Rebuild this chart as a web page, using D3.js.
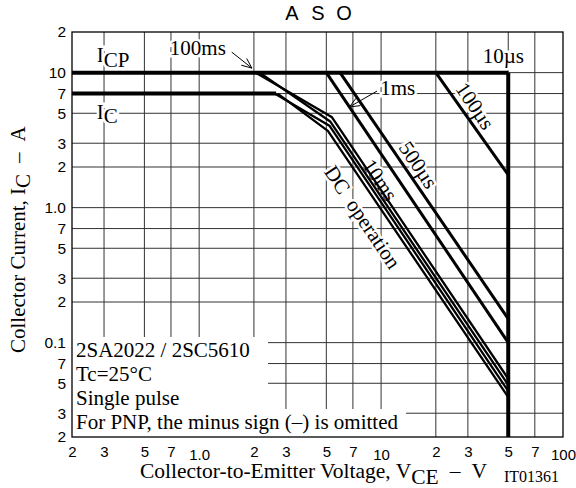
<!DOCTYPE html>
<html>
<head>
<meta charset="utf-8">
<script src="https://cdn.jsdelivr.net/npm/d3@7.9.0/dist/d3.min.js"></script>
<style>
  html, body { margin: 0; padding: 0; background: #fff; }
  svg { display: block; }
  .serif { font-family: "Liberation Serif", "Times New Roman", serif; }
  .sans { font-family: "Liberation Sans", Arial, sans-serif; }
</style>
</head>
<body>
<svg width="576" height="488"></svg>
<script>
// axis ticks
const xTickValues = [0.2, 0.3, 0.5, 0.7, 1, 2, 3, 5, 7, 10, 20, 30, 50, 70, 100];
const xTickLabels = ["2", "3", "5", "7", "1.0", "2", "3", "5", "7", "10", "2", "3", "5", "7", "100"];
const yTickValues = [0.02, 0.03, 0.05, 0.07, 0.1, 0.2, 0.3, 0.5, 0.7, 1, 2, 3, 5, 7, 10, 20];
const yTickLabels = ["2", "3", "5", "7", "0.1", "2", "3", "5", "7", "1.0", "2", "3", "5", "7", "10", "2"];

// limit lines, [VCE (V), IC (A)]
const icpLimit = [[0.2, 10], [50, 10]];
const icLimit = [[0.2, 7], [2.65, 7]];
const vceoLimit = [[50, 10], [50, 0.02]];
const pulse100us = [[20, 10], [50, 1.75]];
const pulse500us = [[5.95, 10], [50, 0.15]];
const pulse1ms = [[5, 10], [50, 0.1]];
const pulse100ms = [[2.05, 10], [5.35, 4.7], [50, 0.054]];
const pulse10ms = [[2.15, 10], [5.25, 4.35], [50, 0.0487]];
const dcUpper = [[2.6, 7], [5.2, 4.05], [50, 0.0438]];
const dcLower = [[2.7, 7], [5.1, 3.7], [50, 0.0395]];

const noteLines = ["2SA2022 / 2SC5610", "Tc=25\u00B0C", "Single pulse", "For PNP, the minus sign (\u2013) is omitted"];

const svg = d3.select("svg");
const plotLeft = 72, plotRight = 563, plotTop = 32, plotBottom = 437;

const x = d3.scaleLog().domain([0.2, 100]).range([plotLeft, plotRight]);
const y = d3.scaleLog().domain([0.02, 20]).range([plotBottom, plotTop]);
const line = d3.line().x(d => x(d[0])).y(d => y(d[1]));

// grid
const grid = svg.append("g").attr("stroke", "#333").attr("stroke-width", 1);
grid.selectAll(".vg")
    .data(xTickValues.slice(1, -1))
    .enter().append("line")
    .attr("x1", d => x(d)).attr("x2", d => x(d))
    .attr("y1", plotTop).attr("y2", plotBottom);
grid.selectAll(".hg")
    .data(yTickValues.slice(1, -1))
    .enter().append("line")
    .attr("x1", plotLeft).attr("x2", plotRight)
    .attr("y1", d => y(d)).attr("y2", d => y(d));

// white box behind the notes
svg.append("rect").attr("x", plotLeft).attr("y", 337).attr("width", 196).attr("height", plotBottom - 337).attr("fill", "#fff");
svg.append("rect").attr("x", plotLeft).attr("y", 409).attr("width", 334).attr("height", plotBottom - 409).attr("fill", "#fff");

// frame
svg.append("rect")
    .attr("x", plotLeft).attr("y", plotTop)
    .attr("width", plotRight - plotLeft).attr("height", plotBottom - plotTop)
    .attr("fill", "none").attr("stroke", "#000").attr("stroke-width", 1.3);

// labels with white halo (they break the grid)
function halo(sel) {
    return sel.attr("stroke", "#fff").attr("stroke-width", 5)
        .attr("paint-order", "stroke").attr("fill", "#000");
}

const labels = svg.append("g").attr("class", "serif").attr("font-size", 21);

let t = halo(labels.append("text").attr("x", x(0.274)).attr("y", y(12.0)));
t.append("tspan").text("I");
t.append("tspan").attr("dy", 5).text("CP");

t = halo(labels.append("text").attr("x", x(0.274)).attr("y", y(4.54)));
t.append("tspan").text("I");
t.append("tspan").attr("dy", 4).text("C");

halo(labels.append("text").attr("x", x(0.69)).attr("y", y(13.5)).text("100ms"));
halo(labels.append("text").attr("x", x(9.9)).attr("y", y(6.83)).text("1ms"));
halo(labels.append("text").attr("x", x(36.2)).attr("y", y(11.8)).text("10\u00B5s"));

const rotated = [
    { text: "100\u00B5s", v: 32.8, i: 5.66 },
    { text: "500\u00B5s", v: 16.0, i: 2.07 },
    { text: "10ms", v: 9.86, i: 1.6 },
    { text: "DC  operation", v: 7.9, i: 0.85 }
];
rotated.forEach(r => {
    halo(labels.append("text")
        .attr("text-anchor", "middle")
        .attr("dominant-baseline", "central")
        .attr("transform", `translate(${x(r.v)},${y(r.i)}) rotate(56)`)
        .style("white-space", "pre")
        .text(r.text));
});

// notes
labels.selectAll(".note")
    .data(noteLines)
    .enter().append("text")
    .attr("x", plotLeft + 4)
    .attr("y", (d, i) => 357 + i * 24)
    .text(d => d);

// curves
const curves = svg.append("g").attr("fill", "none").attr("stroke", "#000").attr("stroke-linejoin", "round");
[icpLimit, icLimit, vceoLimit].forEach(d => {
    curves.append("path").attr("d", line(d)).attr("stroke-width", 4);
});
[pulse100us, pulse500us, pulse1ms].forEach(d => {
    curves.append("path").attr("d", line(d)).attr("stroke-width", 3);
});
[pulse100ms, pulse10ms, dcUpper, dcLower].forEach(d => {
    curves.append("path").attr("d", line(d)).attr("stroke-width", 2.3);
});

// arrows
function arrow(from, to) {
    const x0 = x(from[0]), y0 = y(from[1]), x1 = x(to[0]), y1 = y(to[1]);
    const a = Math.atan2(y1 - y0, x1 - x0);
    const len = 11, spread = 0.4;
    const g = svg.append("g").attr("stroke", "#000").attr("stroke-width", 1).attr("fill", "none");
    g.append("line").attr("x1", x0).attr("y1", y0).attr("x2", x1).attr("y2", y1);
    g.append("path").attr("d",
        `M${x1 - len * Math.cos(a - spread)},${y1 - len * Math.sin(a - spread)}L${x1},${y1}` +
        `L${x1 - len * Math.cos(a + spread)},${y1 - len * Math.sin(a + spread)}`);
}
arrow([1.51, 14.2], [1.95, 10.8]);
arrow([9.5, 7.3], [6.7, 5.57]);

// axes
const xAxis = svg.append("g")
    .attr("transform", `translate(0,${plotBottom})`)
    .call(d3.axisBottom(x).tickValues(xTickValues).tickFormat((d, i) => xTickLabels[i]).tickSize(0).tickPadding(9));
xAxis.select(".domain").remove();
xAxis.selectAll("text")
    .attr("font-size", 15).attr("fill", "#000")
    .attr("font-family", "Liberation Sans, Arial, sans-serif")
    .attr("dy", (d, i) => [4, 9, 14].includes(i) ? "0.96em" : "0.71em");

const yAxis = svg.append("g")
    .attr("transform", `translate(${plotLeft},0)`)
    .call(d3.axisLeft(y).tickValues(yTickValues).tickFormat((d, i) => yTickLabels[i]).tickSize(0).tickPadding(6));
yAxis.select(".domain").remove();
yAxis.selectAll("text")
    .attr("font-size", 15.5).attr("fill", "#000")
    .attr("font-family", "Liberation Sans, Arial, sans-serif");

// title
const title = svg.append("g").attr("class", "sans").attr("font-size", 20).attr("text-anchor", "middle");
["A", "S", "O"].forEach((c, i) => {
    title.append("text").attr("x", 292 + i * 26).attr("y", 19.5).text(c);
});

// axis titles
const xt = svg.append("text").attr("class", "serif").attr("font-size", 21.5).attr("x", 140).attr("y", 478);
xt.append("tspan").text("Collector-to-Emitter Voltage, V");
xt.append("tspan").attr("dy", 6).text("CE");
xt.append("tspan").attr("dy", -6).attr("dx", 11).text("\u2013");
xt.append("tspan").attr("dx", 11).text("V");

svg.append("text").attr("class", "serif").attr("font-size", 16)
    .attr("x", 504).attr("y", 482).text("IT01361");

const yt = svg.append("text").attr("class", "serif").attr("font-size", 21)
    .attr("transform", "translate(25,353) rotate(-90)");
yt.append("tspan").text("Collector Current, I");
yt.append("tspan").attr("dy", 5).text("C");
yt.append("tspan").attr("dy", -5).attr("dx", 11).text("\u2013");
yt.append("tspan").attr("dx", 11).text("A");
</script>
</body>
</html>
